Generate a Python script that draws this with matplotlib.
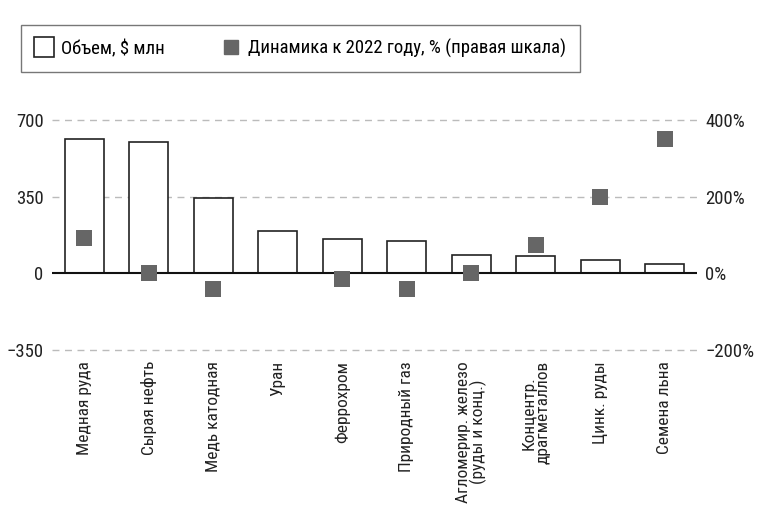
import matplotlib
matplotlib.use("Agg")
import matplotlib.pyplot as plt
from matplotlib.lines import Line2D
from matplotlib.ticker import FuncFormatter

plt.rcParams['font.family'] = ['Roboto Condensed', 'Roboto', 'DejaVu Sans']

categories = ["Медная руда", "Сырая нефть", "Медь катодная", "Уран", "Феррохром",
              "Природный газ", "Агломерир. железо\n(руды и конц.)", "Концентр.\nдрагметаллов",
              "Цинк. руды", "Семена льна"]
volume = [613, 600, 342, 195, 155, 147, 83, 77, 62, 42]
dynamics = [92, 0, -40, None, -14, -40, 0, 75, 199, 350]

left_ticks = [-350, 0, 350, 700]
right_ticks = [-200, 0, 200, 400]

fig = plt.figure(figsize=(7.6, 5.07), dpi=100)
ax = fig.add_axes([52/760, (507-350)/507, (697-52)/760, 230/507])
ax2 = ax.twinx()

x = list(range(len(categories)))
ax.bar(x, volume, width=0.6, facecolor='white', edgecolor='#222222', linewidth=1.2, zorder=3)
ax.set_xlim(-0.5, len(categories) - 0.5)
ax.set_ylim(-350, 700)
ax.set_yticks(left_ticks)
ax.set_yticklabels(["−350", "0", "350", "700"])
for t in [-350, 350, 700]:
    ax.axhline(t, color='#bbbbbb', linestyle=(0, (5, 4)), linewidth=1, zorder=1, clip_on=False)
ax.axhline(0, color='#111111', linewidth=1.5, zorder=4)

dx = [i for i, v in zip(x, dynamics) if v is not None]
dy = [v for v in dynamics if v is not None]
ax2.set_ylim(-200, 400)
ax2.scatter(dx, dy, marker='s', s=118, color='#666666', zorder=5, clip_on=False, linewidths=0)
ax2.set_yticks(right_ticks)
ax2.yaxis.set_major_formatter(FuncFormatter(lambda v, p: ("−" if v < 0 else "") + f"{abs(int(v))}%"))

for a in (ax, ax2):
    for s in a.spines.values():
        s.set_visible(False)
    a.tick_params(length=0, labelsize=13.5, colors='#222222')
ax.tick_params(axis='y', pad=6)
ax2.tick_params(axis='y', pad=6)
ax.set_xticks(x)
ax.set_xticklabels(categories, rotation=90, fontsize=12.5, va='top', ha='center', linespacing=0.9)
ax.tick_params(axis='x', pad=8)
ax.set_zorder(ax2.get_zorder() - 1)
ax.patch.set_visible(True)
ax2.patch.set_visible(False)

handles = [Line2D([], [], linestyle='none', marker='s', markersize=15, markerfacecolor='white',
                  markeredgecolor='#222222', markeredgewidth=1.2),
           Line2D([], [], linestyle='none', marker='s', markersize=10, markerfacecolor='#666666',
                  markeredgecolor='#666666')]
labels = ["Объем, $ млн", "Динамика к 2022 году, % (правая шкала)"]
leg = fig.legend(handles, labels, loc='upper left', bbox_to_anchor=(21/760, 1 - 25/507),
                 ncol=2, frameon=True, fancybox=False, edgecolor='#555555', fontsize=13.5,
                 handlelength=1.0, columnspacing=3.0, borderpad=0.75, borderaxespad=0,
                 handletextpad=0.4)
leg.get_frame().set_linewidth(1)

fig.savefig("out.png", dpi=100, facecolor='white')
